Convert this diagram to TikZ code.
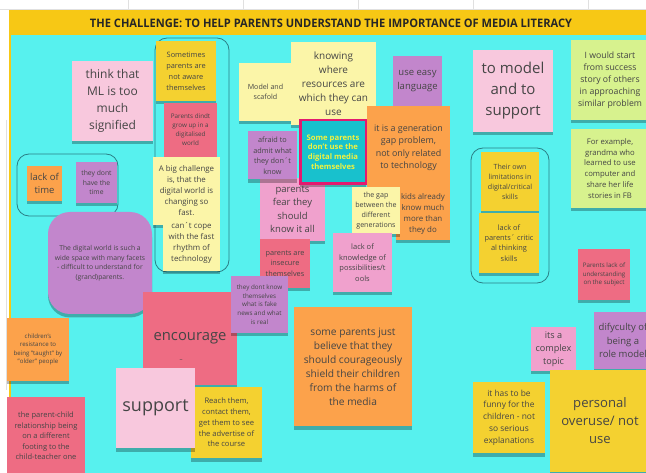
\documentclass[tikz,border=0pt]{standalone}
\usepackage{fontspec}
\setmainfont{Open Sans}
\usetikzlibrary{shadows}
\definecolor{board}{HTML}{57F1EE}
\definecolor{titley}{HTML}{F7C815}
\definecolor{lightpink}{HTML}{F8C8DD}
\definecolor{pinkm}{HTML}{F0A1CD}
\definecolor{redpink}{HTML}{EE6C83}
\definecolor{yellown}{HTML}{F4D130}
\definecolor{lightyellow}{HTML}{FBF5A8}
\definecolor{orangen}{HTML}{FCA24B}
\definecolor{purplen}{HTML}{C286CC}
\definecolor{greenn}{HTML}{D7F28E}
\definecolor{tealn}{HTML}{18C1CD}
\definecolor{magentan}{HTML}{E31A6F}
\definecolor{yellowtext}{HTML}{F2F23E}
\definecolor{notetext}{HTML}{454545}
\definecolor{grpline}{HTML}{2B7F86}
\tikzset{
  sticky/.style={rectangle, inner sep=1pt, align=center, text=notetext,
    drop shadow={shadow xshift=0pt, shadow yshift=-3.5pt, opacity=0.28, fill=black}},
  grp/.style={rectangle, draw=grpline, line width=0.8pt, rounded corners=12pt, inner sep=0pt},
  gridl/.style={draw=black!12, line width=0.5pt},
}
\newcommand{\stk}[9]{\node[sticky, fill=#6, minimum width=#4pt, minimum height=#5pt, font=\fontsize{#7}{#8}\selectfont] (#1) at (#2,#3) {#9};}
\begin{document}
\begin{tikzpicture}[x=1pt,y=-1pt]
\useasboundingbox (0,0) rectangle (646,473);
\clip (0,0) rectangle (646,473);
\fill[white] (0,0) rectangle (646,473);
% faint sheet grid in margins
\foreach \gx in {128,243,358,473,588} \draw[gridl] (\gx,0) -- (\gx,11);
\draw[gridl] (0,9) -- (646,9);
\draw[gridl] (6,120) -- (6,390);
% board and title
\draw[fill=board, draw=titley, line width=1.5pt] (9.75,11) rectangle (660,490);
\fill[titley] (9,11) rectangle (660,35);
\node[text=black!85, inner sep=0pt] (title) at (331,23.5) {\resizebox{482pt}{8.5pt}{\bfseries THE CHALLENGE: TO HELP PARENTS UNDERSTAND THE IMPORTANCE OF MEDIA LITERACY}};
% groups
\node[grp, minimum width=74pt, minimum height=234pt] (g1) at (192,155) {};
\node[grp, minimum width=101pt, minimum height=62pt] (g2) at (67.5,185) {};
\node[grp, minimum width=78pt, minimum height=135pt] (g3) at (510,215.5) {};
% left part
\stk{ml}{112.5}{101}{81}{80}{lightpink}{12}{17}{think that\\ML is too\\much\\signified}
\stk{lacktime}{44.5}{183.5}{35}{35}{orangen}{9.5}{13}{lack of\\time}
\stk{nohave}{96.5}{182.5}{41}{41}{purplen}{6.8}{9.7}{they dont\\have the\\time}
\node[sticky, fill=purplen, rounded corners=22pt, minimum width=104pt, minimum height=102pt, font=\fontsize{6.8}{9.5}\selectfont] (digital) at (100,263) {The digital world is such a\\wide space with many facets\\- difficult to understand for\\(grand)parents.};
\stk{children}{38}{349.5}{62}{63}{orangen}{6.1}{8.5}{children's\\resistance to\\being "taught" by\\"older" people}
\stk{parentchild}{46}{436}{78}{78}{redpink}{7.5}{10.5}{the parent-child\\relationship being\\on a different\\footing to the\\child-teacher one}
\stk{sometimes}{186}{71}{60}{60}{yellown}{7.4}{11}{Sometimes\\parents are\\not aware\\themselves}
\stk{dindt}{190.5}{130}{53}{54}{redpink}{6.3}{9}{Parents dindt\\grow up in a\\digitalised\\world}
\stk{bigchal}{186.5}{191}{67}{68}{lightyellow}{7.9}{11}{A big challenge\\is, that the\\digital world is\\changing so\\fast.}
\stk{cope}{191.5}{243}{57}{56}{lightyellow}{7.9}{11}{can´t cope\\with the fast\\rhythm of\\technology}
% bottom middle-left
\stk{encourage}{190}{338.5}{94}{93}{redpink}{14.8}{20}{encourage}
\node[text=notetext, font=\fontsize{6}{7}\selectfont, inner sep=0pt] (encdash) at (181,361) {--};
\stk{reach}{226.5}{422.5}{71}{71}{yellown}{7.6}{10.7}{Reach them,\\contact them,\\get them to see\\the advertise of\\the course}
\stk{support}{155.5}{408}{79}{80}{lightpink}{18}{24}{support}
% centre
\stk{model}{265.5}{92}{53}{58}{lightyellow}{7.1}{10}{Model and\\scafold}
\stk{knowing}{333.5}{83.5}{85}{83}{lightyellow}{10}{14}{knowing\\where\\resources are\\which they can\\use}
\stk{easylang}{417.5}{81}{49}{50}{purplen}{9.5}{14}{use easy\\language}
\stk{gengap}{408.5}{148}{83}{84}{orangen}{8.9}{12.5}{it is a generation\\gap problem,\\not only related\\to technology}
\stk{kids}{423}{213.5}{54}{53}{orangen}{7.9}{11}{kids already\\know much\\more than\\they do}
\stk{gap}{376}{210.5}{48}{47}{lightyellow}{7.1}{10}{the gap\\between the\\different\\generations}
\stk{fear}{292.5}{209.5}{65}{63}{pinkm}{9.5}{13.3}{parents\\fear they\\should\\know it all}
\stk{afraid}{272.5}{155.5}{49}{48}{purplen}{7.3}{10.5}{afraid to\\admit what\\they don´t\\know}
\stk{insecure}{285}{263.5}{50}{49}{redpink}{7.3}{10.3}{parents are\\insecure\\themselves}
\stk{dontknow}{259.5}{304.5}{57}{57}{purplen}{6.3}{8.8}{they dont know\\themselves\\what is fake\\news and what\\is real}
\stk{lackknow}{362.5}{262.5}{59}{59}{pinkm}{7.5}{10.5}{lack of\\knowledge of\\possibilities/t\\ools}
\node[sticky, fill=tealn, draw=magentan, line width=2.5pt, text=yellowtext, minimum width=65.5pt, minimum height=63.5pt, inner sep=0pt, font=\fontsize{7.7}{9.6}\selectfont\bfseries] (someparents) at (333,152) {Some parents\\don't use the\\digital media\\themselves};
\stk{justbelieve}{353}{366.5}{118}{119}{orangen}{10.2}{14}{some parents just\\believe that they\\should courageously\\shield their children\\from the harms of\\the media}
% right part
\stk{tomodel}{513}{91}{80}{82}{lightpink}{15}{21}{to model\\and to\\support}
\stk{iwould}{610}{80}{78}{80}{greenn}{8.7}{12}{I would start\\from success\\story of others\\in approaching\\similar problem}
\stk{forexample}{610}{168.5}{78}{79}{greenn}{7.7}{10.8}{For example,\\grandma who\\learned to use\\computer and\\share her life\\stories in FB}
\stk{theirown}{510}{181.5}{58}{59}{yellown}{7.1}{10}{Their own\\limitations in\\digital/critical\\skills}
\stk{lackparents}{509}{243}{60}{60}{yellown}{7.4}{10.3}{lack of\\parents´ critic\\al thinking\\skills}
\stk{parentslack}{604}{274.5}{52}{51}{redpink}{6.2}{8.7}{Parents lack of\\understanding\\on the subject}
\stk{complex}{553.5}{349}{45}{44}{pinkm}{9.1}{12.8}{its a\\complex\\topic}
\stk{difyculty}{623}{340.5}{58}{57}{purplen}{9.5}{13.3}{difyculty of\\being a\\role model}
\stk{funny}{509}{417.5}{72}{71}{yellown}{8.4}{11.7}{it has to be\\funny for the\\children - not\\so serious\\explanations}
\stk{personal}{600}{421}{100}{102}{yellown}{13.1}{18}{personal\\overuse/ not\\use}
\end{tikzpicture}
\end{document}
